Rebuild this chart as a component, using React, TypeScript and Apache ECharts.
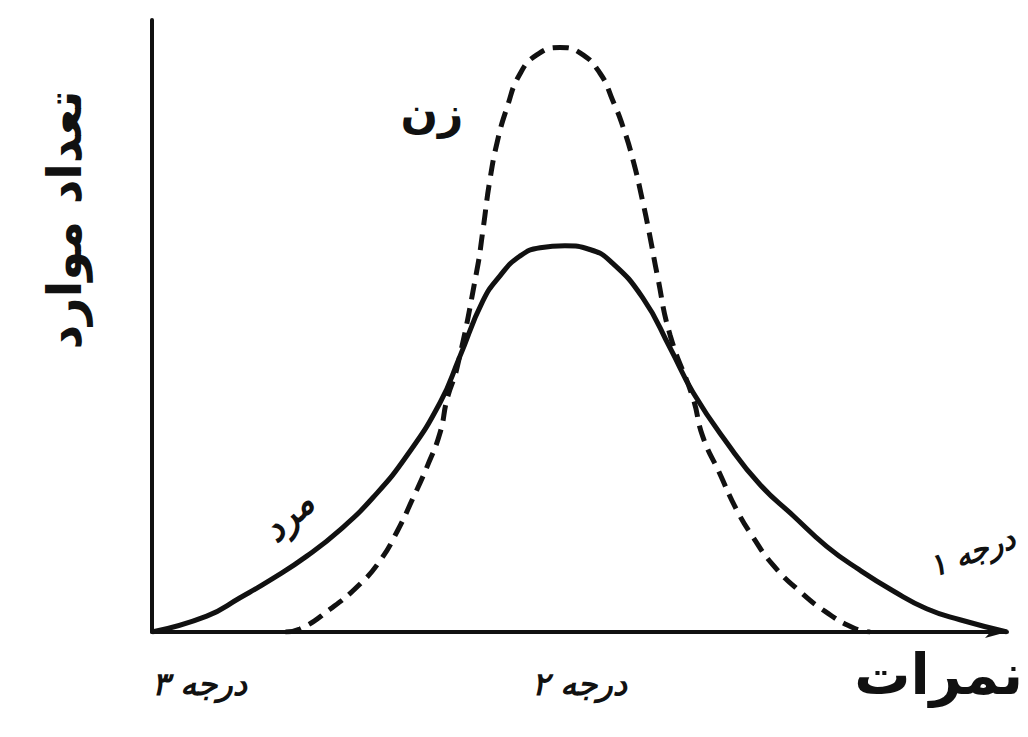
import React, { useEffect, useRef } from "react";
import * as echarts from "echarts";

// Scores (0 = درجه ۳ at the origin, 100 = درجه ۱ at the far right)
const menX = [0, 6.4, 10.3, 14.2, 18.1, 22.0, 25.8, 29.8, 33.7, 36.0, 38.7, 40.7, 43.0, 45.4, 48.3, 51.2, 53.6, 57.4, 60.6, 63.3, 67.3, 71.1, 75.0, 78.9, 82.8, 86.7, 90.6, 94.5, 100];
const menY = [0, 2.6, 5.6, 8.8, 12.4, 16.7, 21.9, 28.8, 37.5, 45.0, 54.1, 58.2, 61.4, 62.8, 63.1, 62.5, 60.6, 54.6, 46.4, 39.1, 30.8, 24.1, 19.0, 14.0, 10.1, 6.7, 3.8, 2.0, 0];

const womenX = [15.6, 17.3, 20.8, 24.3, 26.7, 28.7, 30.5, 32.2, 33.7, 34.5, 35.7, 38.0, 38.7, 39.5, 40.4, 41.5, 43.0, 45.0, 47.7, 50.1, 52.4, 53.9, 55.1, 56.3, 57.4, 58.2, 59.1, 60.6, 63.3, 64.4, 66.4, 68.4, 70.3, 72.6, 75.8, 78.9, 82.0, 84.0];
const womenY = [0, 0.5, 3.7, 7.8, 11.7, 16.5, 21.8, 27.1, 32.6, 38.0, 43.3, 59.1, 65.6, 73.7, 80.2, 85.6, 91.1, 94.3, 95.5, 94.6, 91.3, 86.8, 82.5, 76.9, 70.3, 64.9, 58.3, 48.5, 38.1, 32.0, 25.9, 19.9, 15.5, 11.0, 6.6, 3.2, 0.7, 0];

const tickValues = [0, 50, 100];
const tickLabels = ["درجه ۳", "درجه ۲", ""];
const gradeOneLabel = "درجه ۱";
const xName = "نمرات";
const yName = "تعداد موارد";
const menLabel = "مرد";
const womenLabel = "زن";

const FONT = "'DejaVu Sans', 'Noto Sans', sans-serif";

export default function App() {
  const ref = useRef<HTMLDivElement>(null);
  useEffect(() => {
    if (!ref.current) return;
    const chart = echarts.init(ref.current, null, { renderer: "svg" });
    const menData = menX.map((x, i) => [x, menY[i]]);
    const womenData = womenX.map((x, i) => [x, womenY[i]]);
    chart.setOption({
      animation: false,
      backgroundColor: "#ffffff",
      grid: { left: 152, right: 21, top: 20, bottom: 105 },
      xAxis: {
        type: "value",
        min: 0,
        max: 100,
        interval: 50,
        splitLine: { show: false },
        axisTick: { show: false },
        axisLine: {
          show: true,
          symbol: ["none", "arrow"],
          symbolSize: [9, 22],
          lineStyle: { color: "#111", width: 4 },
        },
        axisLabel: {
          show: true,
          margin: 36,
          alignMinLabel: "left",
          color: "#111",
          fontFamily: FONT,
          fontWeight: "bold",
          fontStyle: "italic",
          fontSize: 32,
          formatter: (v: number) => {
            const idx = tickValues.indexOf(v);
            return idx >= 0 ? tickLabels[idx] : "";
          },
        },
        name: xName,
        nameLocation: "end",
        nameGap: 0,
        nameTextStyle: {
          color: "#111",
          fontFamily: FONT,
          fontWeight: "bold",
          fontSize: 56,
          align: "right",
          verticalAlign: "top",
          padding: [14, -16, 0, 0],
        },
      },
      yAxis: {
        type: "value",
        min: 0,
        max: 100,
        splitLine: { show: false },
        axisTick: { show: false },
        axisLabel: { show: false },
        axisLine: { show: true, lineStyle: { color: "#111", width: 4 } },
      },
      series: [
        {
          type: "line",
          name: menLabel,
          data: menData,
          smooth: true,
          symbol: "none",
          lineStyle: { color: "#111", width: 5 },
        },
        {
          type: "line",
          name: womenLabel,
          data: womenData,
          smooth: true,
          symbol: "none",
          lineStyle: { color: "#111", width: 5, type: [16, 9] },
        },
      ],
      graphic: [
        {
          type: "text",
          x: 64,
          y: 220,
          rotation: Math.PI / 2,
          style: {
            text: yName,
            fill: "#111",
            font: `bold 48px ${FONT}`,
            align: "center",
            verticalAlign: "middle",
          },
        },
        {
          type: "text",
          x: 432,
          y: 112,
          style: {
            text: womenLabel,
            fill: "#111",
            font: `bold 44px ${FONT}`,
            align: "center",
            verticalAlign: "middle",
          },
        },
        {
          type: "text",
          x: 288,
          y: 516,
          rotation: 0.75,
          style: {
            text: menLabel,
            fill: "#111",
            font: `bold italic 36px ${FONT}`,
            align: "center",
            verticalAlign: "middle",
          },
        },
        {
          type: "text",
          x: 972,
          y: 552,
          rotation: 0.35,
          style: {
            text: gradeOneLabel,
            fill: "#111",
            font: `bold italic 30px ${FONT}`,
            align: "center",
            verticalAlign: "middle",
          },
        },
      ],
    });
    return () => chart.dispose();
  }, []);
  return <div ref={ref} style={{ width: 1028, height: 737, position: "absolute", left: 0, top: 0 }} />;
}
